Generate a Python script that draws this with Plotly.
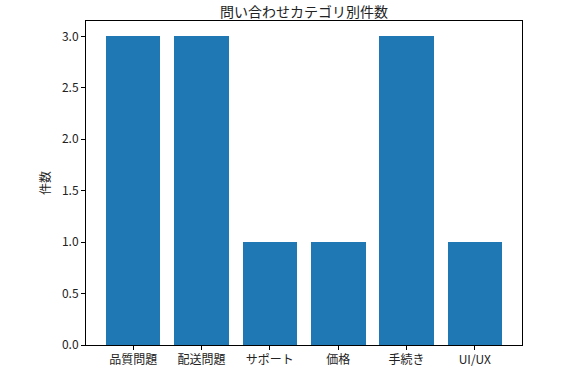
import plotly.graph_objects as go

categories = ["品質問題", "配送問題", "サポート", "価格", "手続き", "UI/UX"]
counts = [3, 3, 1, 1, 3, 1]
y_ticks = [0.0, 0.5, 1.0, 1.5, 2.0, 2.5, 3.0]
y_tick_labels = ["0.0", "0.5", "1.0", "1.5", "2.0", "2.5", "3.0"]

font_family = "Noto Sans CJK JP, DejaVu Sans, sans-serif"
text_color = "#222222"

fig = go.Figure(
    go.Bar(
        x=list(range(len(categories))),
        y=counts,
        width=0.8,
        marker=dict(color="#1f77b4", line=dict(width=0)),
    )
)

L, R, T, B = 86, 45, 21, 26
fig.update_layout(
    width=567,
    height=371,
    margin=dict(l=L, r=R, t=T, b=B, autoexpand=False),
    paper_bgcolor="white",
    plot_bgcolor="white",
    font=dict(family=font_family, size=12, color=text_color),
    title=dict(
        text="問い合わせカテゴリ別件数",
        x=(L + (567 - R)) / 2 / 567,
        xanchor="center",
        y=1 - 12 / 371,
        yanchor="middle",
        font=dict(size=14, family=font_family, color=text_color),
    ),
    showlegend=False,
    bargap=0,
)

fig.update_xaxes(
    range=[-0.69, 5.69],
    tickmode="array",
    tickvals=list(range(len(categories))),
    ticktext=categories,
    ticks="outside",
    ticklen=4,
    tickwidth=1,
    tickcolor="black",
    showline=True,
    linecolor="black",
    linewidth=1,
    mirror=True,
    showgrid=False,
    zeroline=False,
    automargin=False,
    tickfont=dict(size=12),
)

fig.update_yaxes(
    range=[0, 3.15],
    tickmode="array",
    tickvals=y_ticks,
    ticktext=y_tick_labels,
    ticks="outside",
    ticklen=4,
    tickwidth=1,
    tickcolor="black",
    showline=True,
    linecolor="black",
    linewidth=1,
    mirror=True,
    showgrid=False,
    zeroline=False,
    automargin=False,
    tickfont=dict(size=12),
    title=dict(text="件数", font=dict(size=12), standoff=8),
)

fig.write_html(
    "out.html",
    config={"displayModeBar": False},
    post_script="document.body.style.margin='0';",
)
